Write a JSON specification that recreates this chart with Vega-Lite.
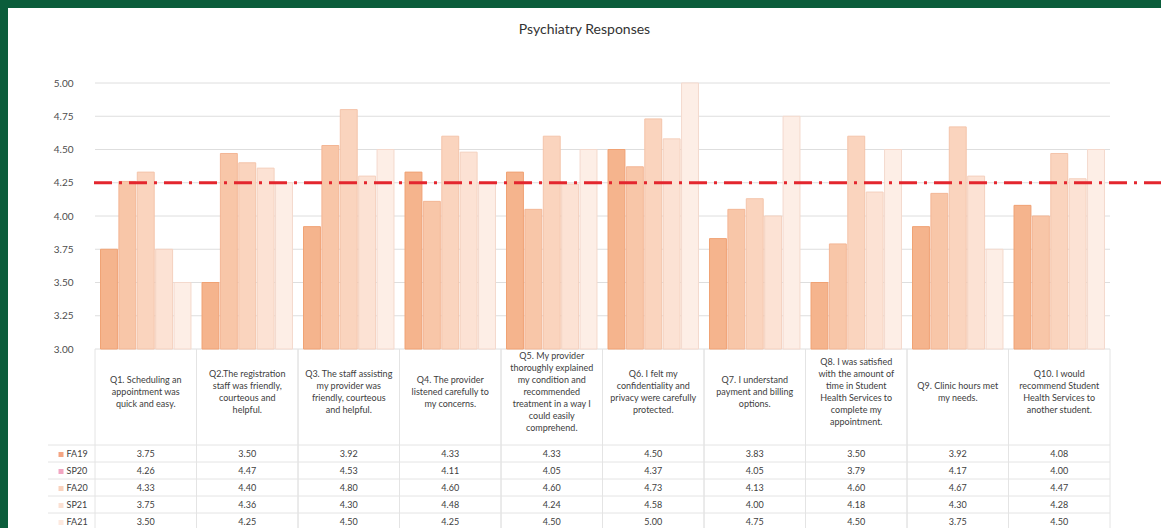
{
  "$schema": "https://vega.github.io/schema/vega-lite/v6.json",
  "width": 1153,
  "height": 520,
  "autosize": {"type": "none"},
  "padding": {"left": 8, "top": 8, "right": 0, "bottom": 0},
  "background": "#0b5d3b",
  "config": {
    "view": {"fill": "white", "stroke": null},
    "font": "Lato",
    "axis": {"title": null, "grid": false, "domain": false, "ticks": false, "labelFont": "Lato"},
    "text": {"font": "Lato", "fontSize": 9, "color": "#404040", "lineHeight": 12}
  },
  "title": {"text": "Psychiatry Responses", "fontSize": 14, "fontWeight": "normal", "color": "#333333", "offset": -29, "frame": "group", "anchor": "middle", "font": "Lato"},
  "datasets": {
    "questions": [
      {"q": "Q1", "label": "Q1. Scheduling an\nappointment was\nquick and easy."},
      {"q": "Q2", "label": "Q2.The registration\nstaff was friendly,\ncourteous and\nhelpful."},
      {"q": "Q3", "label": "Q3. The staff assisting\nmy provider was\nfriendly, courteous\nand helpful."},
      {"q": "Q4", "label": "Q4. The provider\nlistened carefully to\nmy concerns."},
      {"q": "Q5", "label": "Q5. My provider\nthoroughly explained\nmy condition and\nrecommended\ntreatment in a way I\ncould easily\ncomprehend."},
      {"q": "Q6", "label": "Q6. I felt my\nconfidentiality and\nprivacy were carefully\nprotected."},
      {"q": "Q7", "label": "Q7. I understand\npayment and billing\noptions."},
      {"q": "Q8", "label": "Q8. I was satisfied\nwith the amount of\ntime in Student\nHealth Services to\ncomplete my\nappointment."},
      {"q": "Q9", "label": "Q9. Clinic hours met\nmy needs."},
      {"q": "Q10", "label": "Q10. I would\nrecommend Student\nHealth Services to\nanother student."}
    ],
    "terms": [{"term": "FA19"}, {"term": "SP20"}, {"term": "FA20"}, {"term": "SP21"}, {"term": "FA21"}],
    "grid": [{"v": 3.0}, {"v": 3.25}, {"v": 3.5}, {"v": 3.75}, {"v": 4.0}, {"v": 4.25}, {"v": 4.5}, {"v": 4.75}, {"v": 5.0}],
    "ref": [{"v": 4.25}],
    "scores": [
      {"q": "Q1", "term": "FA19", "score": 3.75}, {"q": "Q1", "term": "SP20", "score": 4.26}, {"q": "Q1", "term": "FA20", "score": 4.33}, {"q": "Q1", "term": "SP21", "score": 3.75}, {"q": "Q1", "term": "FA21", "score": 3.50},
      {"q": "Q2", "term": "FA19", "score": 3.50}, {"q": "Q2", "term": "SP20", "score": 4.47}, {"q": "Q2", "term": "FA20", "score": 4.40}, {"q": "Q2", "term": "SP21", "score": 4.36}, {"q": "Q2", "term": "FA21", "score": 4.25},
      {"q": "Q3", "term": "FA19", "score": 3.92}, {"q": "Q3", "term": "SP20", "score": 4.53}, {"q": "Q3", "term": "FA20", "score": 4.80}, {"q": "Q3", "term": "SP21", "score": 4.30}, {"q": "Q3", "term": "FA21", "score": 4.50},
      {"q": "Q4", "term": "FA19", "score": 4.33}, {"q": "Q4", "term": "SP20", "score": 4.11}, {"q": "Q4", "term": "FA20", "score": 4.60}, {"q": "Q4", "term": "SP21", "score": 4.48}, {"q": "Q4", "term": "FA21", "score": 4.25},
      {"q": "Q5", "term": "FA19", "score": 4.33}, {"q": "Q5", "term": "SP20", "score": 4.05}, {"q": "Q5", "term": "FA20", "score": 4.60}, {"q": "Q5", "term": "SP21", "score": 4.24}, {"q": "Q5", "term": "FA21", "score": 4.50},
      {"q": "Q6", "term": "FA19", "score": 4.50}, {"q": "Q6", "term": "SP20", "score": 4.37}, {"q": "Q6", "term": "FA20", "score": 4.73}, {"q": "Q6", "term": "SP21", "score": 4.58}, {"q": "Q6", "term": "FA21", "score": 5.00},
      {"q": "Q7", "term": "FA19", "score": 3.83}, {"q": "Q7", "term": "SP20", "score": 4.05}, {"q": "Q7", "term": "FA20", "score": 4.13}, {"q": "Q7", "term": "SP21", "score": 4.00}, {"q": "Q7", "term": "FA21", "score": 4.75},
      {"q": "Q8", "term": "FA19", "score": 3.50}, {"q": "Q8", "term": "SP20", "score": 3.79}, {"q": "Q8", "term": "FA20", "score": 4.60}, {"q": "Q8", "term": "SP21", "score": 4.18}, {"q": "Q8", "term": "FA21", "score": 4.50},
      {"q": "Q9", "term": "FA19", "score": 3.92}, {"q": "Q9", "term": "SP20", "score": 4.17}, {"q": "Q9", "term": "FA20", "score": 4.67}, {"q": "Q9", "term": "SP21", "score": 4.30}, {"q": "Q9", "term": "FA21", "score": 3.75},
      {"q": "Q10", "term": "FA19", "score": 4.08}, {"q": "Q10", "term": "SP20", "score": 4.00}, {"q": "Q10", "term": "FA20", "score": 4.47}, {"q": "Q10", "term": "SP21", "score": 4.28}, {"q": "Q10", "term": "FA21", "score": 4.50}
    ]
  },
  "layer": [
    {
      "data": {"name": "grid"},
      "mark": {"type": "rule", "color": "#dedede", "strokeWidth": 1},
      "encoding": {
        "x": {"datum": 0, "type": "quantitative", "scale": {"domain": [0, 1], "range": [87, 1102]}, "axis": null},
        "x2": {"datum": 1},
        "y": {"field": "v", "type": "quantitative", "scale": {"domain": [3, 5], "range": [341, 75], "zero": false, "nice": false},
              "axis": {"orient": "left", "offset": -67, "values": [3, 3.25, 3.5, 3.75, 4, 4.25, 4.5, 4.75, 5], "format": ".2f", "labelFontSize": 10, "labelColor": "#4d4d4d", "labelPadding": 2}}
      }
    },
    {
      "data": {"name": "scores"},
      "mark": {"type": "bar", "strokeWidth": 1},
      "encoding": {
        "x": {"field": "q", "type": "nominal", "scale": {"domain": ["Q1", "Q2", "Q3", "Q4", "Q5", "Q6", "Q7", "Q8", "Q9", "Q10"], "range": [87, 1102], "paddingInner": 0, "paddingOuter": 0}, "axis": null},
        "xOffset": {"field": "term", "type": "nominal", "scale": {"domain": ["FA19", "SP20", "FA20", "SP21", "FA21"], "paddingInner": 0.08, "paddingOuter": 0.3}},
        "y": {"field": "score", "type": "quantitative", "scale": {"domain": [3, 5], "range": [341, 75], "zero": false, "nice": false}, "axis": null},
        "y2": {"datum": 3},
        "fill": {"field": "term", "type": "nominal", "scale": {"domain": ["FA19", "SP20", "FA20", "SP21", "FA21"], "range": ["#f5b48d", "#f8c6a8", "#fad4be", "#fce2d4", "#fdeee6"]}, "legend": null},
        "stroke": {"field": "term", "type": "nominal", "scale": {"domain": ["FA19", "SP20", "FA20", "SP21", "FA21"], "range": ["#f0a274", "#f3b695", "#f4c4aa", "#f4d0be", "#f4d9cd"]}, "legend": null}
      }
    },
    {
      "data": {"name": "terms"},
      "mark": {"type": "rule", "color": "#e4e4e4", "strokeWidth": 1},
      "encoding": {
        "x": {"datum": 0, "type": "quantitative", "scale": {"domain": [0, 1], "range": [40, 1102]}, "axis": null},
        "x2": {"datum": 1},
        "y": {"field": "term", "type": "nominal", "bandPosition": 0, "scale": {"domain": ["FA19", "SP20", "FA20", "SP21", "FA21"], "range": [437, 522], "paddingInner": 0, "paddingOuter": 0}, "axis": null}
      }
    },
    {
      "data": {"name": "questions"},
      "mark": {"type": "rule", "color": "#e4e4e4", "strokeWidth": 1},
      "encoding": {
        "x": {"field": "q", "type": "nominal", "bandPosition": 0, "scale": {"domain": ["Q1", "Q2", "Q3", "Q4", "Q5", "Q6", "Q7", "Q8", "Q9", "Q10"], "range": [87, 1102], "paddingInner": 0, "paddingOuter": 0}, "axis": null},
        "y": {"datum": 3, "type": "quantitative", "scale": {"domain": [3, 5], "range": [341, 75], "zero": false, "nice": false}, "axis": null},
        "y2": {"datum": 1.5}
      }
    },
    {
      "data": {"name": "questions"},
      "mark": {"type": "rule", "color": "#e4e4e4", "strokeWidth": 1},
      "encoding": {
        "x": {"field": "q", "type": "nominal", "bandPosition": 1, "scale": {"domain": ["Q1", "Q2", "Q3", "Q4", "Q5", "Q6", "Q7", "Q8", "Q9", "Q10"], "range": [87, 1102], "paddingInner": 0, "paddingOuter": 0}, "axis": null},
        "y": {"datum": 3, "type": "quantitative", "scale": {"domain": [3, 5], "range": [341, 75], "zero": false, "nice": false}, "axis": null},
        "y2": {"datum": 1.5}
      }
    },
    {
      "data": {"name": "questions"},
      "transform": [{"filter": {"field": "q", "oneOf": ["Q9"]}}],
      "mark": {"type": "text", "lineBreak": "\n", "baseline": "top", "dy": 33},
      "encoding": {
        "x": {"field": "q", "type": "nominal", "scale": {"domain": ["Q1", "Q2", "Q3", "Q4", "Q5", "Q6", "Q7", "Q8", "Q9", "Q10"], "range": [87, 1102], "paddingInner": 0, "paddingOuter": 0}, "axis": null},
        "y": {"datum": 3, "type": "quantitative", "scale": {"domain": [3, 5], "range": [341, 75], "zero": false, "nice": false}, "axis": null},
        "text": {"field": "label"}
      }
    },
    {
      "data": {"name": "questions"},
      "transform": [{"filter": {"field": "q", "oneOf": ["Q1", "Q4", "Q7"]}}],
      "mark": {"type": "text", "lineBreak": "\n", "baseline": "top", "dy": 27},
      "encoding": {
        "x": {"field": "q", "type": "nominal", "scale": {"domain": ["Q1", "Q2", "Q3", "Q4", "Q5", "Q6", "Q7", "Q8", "Q9", "Q10"], "range": [87, 1102], "paddingInner": 0, "paddingOuter": 0}, "axis": null},
        "y": {"datum": 3, "type": "quantitative", "scale": {"domain": [3, 5], "range": [341, 75], "zero": false, "nice": false}, "axis": null},
        "text": {"field": "label"}
      }
    },
    {
      "data": {"name": "questions"},
      "transform": [{"filter": {"field": "q", "oneOf": ["Q2", "Q3", "Q6", "Q10"]}}],
      "mark": {"type": "text", "lineBreak": "\n", "baseline": "top", "dy": 21},
      "encoding": {
        "x": {"field": "q", "type": "nominal", "scale": {"domain": ["Q1", "Q2", "Q3", "Q4", "Q5", "Q6", "Q7", "Q8", "Q9", "Q10"], "range": [87, 1102], "paddingInner": 0, "paddingOuter": 0}, "axis": null},
        "y": {"datum": 3, "type": "quantitative", "scale": {"domain": [3, 5], "range": [341, 75], "zero": false, "nice": false}, "axis": null},
        "text": {"field": "label"}
      }
    },
    {
      "data": {"name": "questions"},
      "transform": [{"filter": {"field": "q", "oneOf": ["Q8"]}}],
      "mark": {"type": "text", "lineBreak": "\n", "baseline": "top", "dy": 9},
      "encoding": {
        "x": {"field": "q", "type": "nominal", "scale": {"domain": ["Q1", "Q2", "Q3", "Q4", "Q5", "Q6", "Q7", "Q8", "Q9", "Q10"], "range": [87, 1102], "paddingInner": 0, "paddingOuter": 0}, "axis": null},
        "y": {"datum": 3, "type": "quantitative", "scale": {"domain": [3, 5], "range": [341, 75], "zero": false, "nice": false}, "axis": null},
        "text": {"field": "label"}
      }
    },
    {
      "data": {"name": "questions"},
      "transform": [{"filter": {"field": "q", "oneOf": ["Q5"]}}],
      "mark": {"type": "text", "lineBreak": "\n", "baseline": "top", "dy": 3},
      "encoding": {
        "x": {"field": "q", "type": "nominal", "scale": {"domain": ["Q1", "Q2", "Q3", "Q4", "Q5", "Q6", "Q7", "Q8", "Q9", "Q10"], "range": [87, 1102], "paddingInner": 0, "paddingOuter": 0}, "axis": null},
        "y": {"datum": 3, "type": "quantitative", "scale": {"domain": [3, 5], "range": [341, 75], "zero": false, "nice": false}, "axis": null},
        "text": {"field": "label"}
      }
    },
    {
      "data": {"name": "scores"},
      "mark": {"type": "text"},
      "encoding": {
        "x": {"field": "q", "type": "nominal", "scale": {"domain": ["Q1", "Q2", "Q3", "Q4", "Q5", "Q6", "Q7", "Q8", "Q9", "Q10"], "range": [87, 1102], "paddingInner": 0, "paddingOuter": 0}, "axis": null},
        "y": {"field": "term", "type": "nominal", "scale": {"domain": ["FA19", "SP20", "FA20", "SP21", "FA21"], "range": [437, 522], "paddingInner": 0, "paddingOuter": 0},
          "axis": {"orient": "right", "offset": -1103, "ticks": true, "tickSize": 5, "tickWidth": 5, "tickCap": "butt", "labelPadding": 3, "labelFontSize": 9, "labelColor": "#404040", "labelAlign": "left",
            "tickColor": {"condition": [
              {"test": "datum.value === 'FA19'", "value": "#f4a582"},
              {"test": "datum.value === 'SP20'", "value": "#f2a6c2"},
              {"test": "datum.value === 'FA20'", "value": "#f9d2bd"},
              {"test": "datum.value === 'SP21'", "value": "#fbe0d2"}
            ], "value": "#fde9df"}}},
        "text": {"field": "score", "type": "quantitative", "format": ".2f"}
      }
    },
    {
      "data": {"name": "ref"},
      "mark": {"type": "rule", "color": "#e3262e", "strokeWidth": 3, "strokeDash": [18, 7, 3, 7]},
      "encoding": {
        "x": {"datum": 0, "type": "quantitative", "scale": {"domain": [0, 1], "range": [86, 1153]}, "axis": null},
        "x2": {"datum": 1},
        "y": {"field": "v", "type": "quantitative", "scale": {"domain": [3, 5], "range": [341, 75], "zero": false, "nice": false}, "axis": null}
      }
    }
  ],
  "resolve": {
    "scale": {"x": "independent", "y": "independent", "fill": "independent", "stroke": "independent", "xOffset": "independent"},
    "axis": {"x": "independent", "y": "independent"}
  }
}
